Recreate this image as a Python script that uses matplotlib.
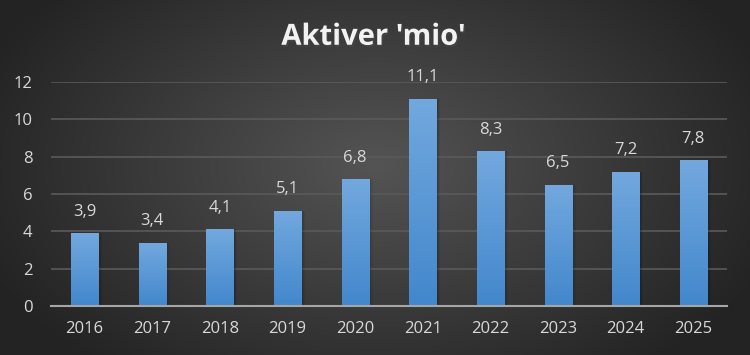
import matplotlib.pyplot as plt
import matplotlib.patheffects as pe
import numpy as np

years = ['2016', '2017', '2018', '2019', '2020', '2021', '2022', '2023', '2024', '2025']
aktiver = [3.9, 3.4, 4.1, 5.1, 6.8, 11.1, 8.3, 6.5, 7.2, 7.8]

plt.rcParams['font.family'] = ['Open Sans', 'DejaVu Sans']

fig = plt.figure(figsize=(7.5, 3.55), dpi=100)

# radial background
bg = fig.add_axes([0, 0, 1, 1], zorder=-1)
yy, xx = np.mgrid[0:355, 0:750]
r = np.sqrt(((xx - 375) / 420.0) ** 2 + ((yy - 165) / 260.0) ** 2)
r = np.clip(r, 0, 1)
inner = np.array([0.33, 0.33, 0.33])
outer = np.array([0.14, 0.14, 0.14])
img = inner[None, None, :] * (1 - r[..., None]) + outer[None, None, :] * r[..., None]
bg.imshow(img, aspect='auto', extent=[0, 1, 0, 1])
bg.axis('off')

ax = fig.add_axes([0.0676, 0.138, 0.902, 0.631])
ax.set_facecolor('none')

x = np.arange(len(years))
bars = ax.bar(x, aktiver, width=0.4, color='none', zorder=3)

grad = np.linspace(0, 1, 256)[:, None]
top = np.array([0.45, 0.66, 0.87])
bot = np.array([0.26, 0.53, 0.80])
gimg = top[None, None, :] * (1 - grad[..., None]) + bot[None, None, :] * grad[..., None]

for b, v in zip(bars, aktiver):
    x0, w, h = b.get_x(), b.get_width(), b.get_height()
    # soft shadow, a few layers
    for k, a in [(0.06, 0.06), (0.04, 0.08), (0.02, 0.1)]:
        ax.bar(x0 + w / 2 + k, h, width=w, bottom=0, color='black', alpha=a,
               zorder=2, linewidth=0)
    im = ax.imshow(gimg, extent=[x0, x0 + w, 0, h], aspect='auto', zorder=3,
                   interpolation='bilinear')
    im.set_clip_path(b)
    ax.text(x0 + w / 2, h + 1.15, f'{v:.1f}'.replace('.', ','), ha='center',
            va='center', color='#d9d9d9', fontsize=12, zorder=4)

ax.set_xlim(-0.5, len(years) - 0.5)
ax.set_ylim(0, 12)
ax.set_yticks([0, 2, 4, 6, 8, 10, 12])
ax.set_xticks(x)
ax.set_xticklabels(years)
ax.grid(axis='y', color='#5a5a5a', linewidth=1.2, zorder=1)
ax.set_axisbelow(True)
for s in ['top', 'right', 'left']:
    ax.spines[s].set_visible(False)
ax.spines['bottom'].set_color('#a6a6a6')
ax.spines['bottom'].set_linewidth(1.5)
ax.spines['bottom'].set_zorder(5)
ax.tick_params(axis='both', length=0, colors='#d9d9d9', labelsize=12)
ax.tick_params(axis='x', pad=11)
ax.tick_params(axis='y', pad=13)

fig.text(0.498, 0.895, "Aktiver 'mio'", ha='center', va='center', color='#f2f2f2',
         fontsize=21, fontweight='bold',
         path_effects=[pe.withSimplePatchShadow(offset=(1, -1.5), alpha=0.6)])

fig.savefig('out.png', dpi=100)
